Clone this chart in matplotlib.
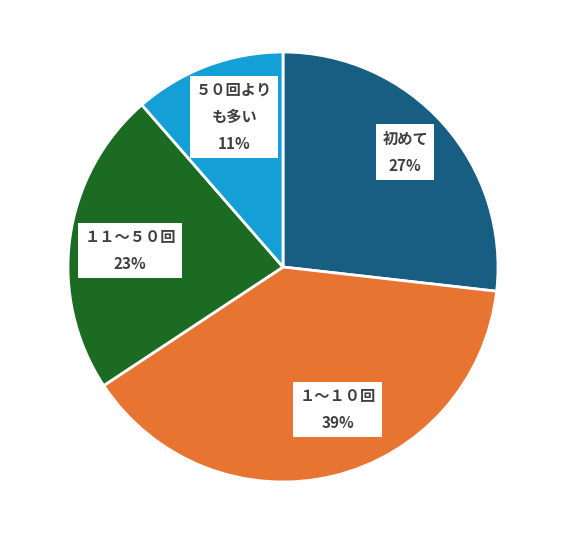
import numpy as np
import matplotlib.pyplot as plt

plt.rcParams['font.family'] = ['Noto Sans CJK JP', 'DejaVu Sans']

labels = ['初めて', '１～１０回', '１１～５０回', '５０回より\nも多い']
shares = [26.8, 38.9, 22.9, 11.4]
pct_text = ['27%', '39%', '23%', '11%']
colors = ['#175e82', '#e87432', '#1b6b23', '#149fd6']

# label placement (fraction of radius, angle nudge in degrees)
label_r = [0.78, 0.71, 0.716, 0.735]
label_nudge = [1.5, 7.5, 1.5, -2.5]

fig = plt.figure(figsize=(5.67, 5.35), dpi=100)
ax = fig.add_axes([68 / 567, 53 / 535, 430 / 567, 430 / 535])

wedges, _ = ax.pie(shares, colors=colors, startangle=90, counterclock=False,
                   radius=1.0, wedgeprops=dict(edgecolor='white', linewidth=2))

total = sum(shares)
angle = 90.0
for lab, v, pt, r, nd in zip(labels, shares, pct_text, label_r, label_nudge):
    span = 360.0 * v / total
    mid = np.deg2rad(angle - span / 2 + nd)
    angle -= span
    ax.text(r * np.cos(mid), r * np.sin(mid), f"{lab}\n{pt}",
            ha='center', va='center', fontsize=11, fontweight='bold',
            color='#404040', linespacing=1.85, multialignment='center',
            bbox=dict(boxstyle='square,pad=0.4', facecolor='white', edgecolor='none'))

ax.set_xlim(-1, 1)
ax.set_ylim(-1, 1)
ax.set_aspect('equal')
ax.axis('off')

fig.savefig('out.png', dpi=100)
